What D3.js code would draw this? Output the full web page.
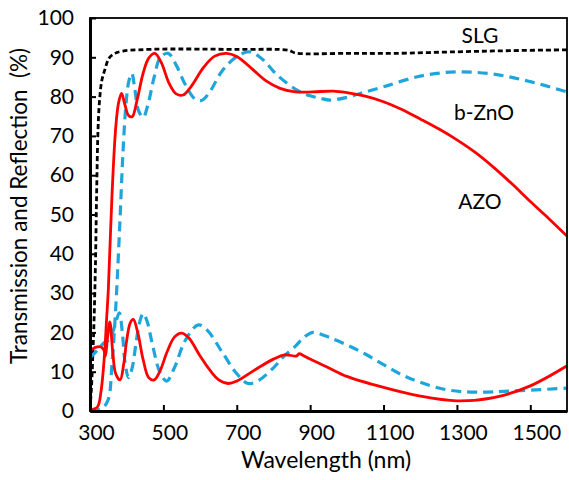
<!DOCTYPE html>
<html>
<head>
<meta charset="utf-8">
<script src="https://cdn.jsdelivr.net/npm/d3@7"></script>
<style>
  body { margin: 0; background: #fff; }
  text { font-family: Lato, "Open Sans", sans-serif; fill: #000; }
</style>
</head>
<body>
<div id="chart"></div>
<script>
// wavelength (nm), percent
var slgT = [[300,0.5],[304,6],[308,15],[311,23],[315,38],[318,55],[322,72],[326,79],[332,84],[341,87],[352,89.8],[368,91.0],[390,91.6],[430,91.9],[500,92.1],[700,92.0],[840,91.8],[860,91.1],[1000,91.0],[1126,91.0],[1300,91.4],[1450,91.7],[1600,91.9]];

var azoT = [[300,0.3],[320,1],[330,5],[340,15],[345,23],[350,31],[360,55],[370,72],[378,78.5],[386,80.8],[395,78],[405,75.2],[415,74.9],[428,79],[445,86],[460,89.8],[477,91.0],[495,88.5],[515,83.5],[535,80.7],[554,80.4],[575,82.5],[610,87.5],[640,90.3],[672,91.0],[700,90.2],[740,87.2],[780,84],[818,82.1],[860,81.2],[908,81.2],[963,81.4],[1000,81.0],[1050,80.1],[1100,78.7],[1150,76.7],[1200,74.3],[1250,71.8],[1300,69.0],[1350,65.8],[1400,62.0],[1450,57.8],[1500,53.3],[1550,49.0],[1600,44.5]];

var znoT = [[300,0.2],[320,0.3],[335,0.8],[350,3],[360,12],[370,26],[380,45],[390,66],[398,78],[406,84],[414,85.9],[422,82],[432,76.5],[445,74.7],[458,78],[475,85],[492,90],[513,91.0],[535,88],[560,83],[585,79.5],[604,79.0],[625,81],[660,86.5],[700,90.2],[736,91.4],[770,89.5],[810,85.5],[863,81.7],[900,80.2],[927,79.6],[954,79.1],[1000,79.8],[1036,80.8],[1100,82.5],[1200,85.2],[1299,86.3],[1400,85.7],[1500,83.8],[1600,81.2]];

var azoR = [[300,15.3],[310,16],[320,16.3],[330,16.3],[338,15.5],[342,14],[347,18],[354,22.7],[362,15],[370,9.5],[382,7.9],[392,12],[400,18],[410,22.5],[418,23.3],[430,20],[445,13],[460,8.5],[475,7.9],[490,10],[510,15],[530,18.8],[550,19.8],[570,18.5],[600,14],[630,10],[650,8],[677,7.0],[700,7.6],[750,10.5],[800,13.2],[830,14.3],[863,14.0],[870,14.6],[880,14.2],[900,13.2],[950,11],[1000,8.8],[1100,6.0],[1200,3.8],[1300,2.6],[1400,3.4],[1500,6.4],[1600,11.5]];

var znoR = [[300,13.5],[320,15.5],[340,17.5],[350,18],[360,19.5],[370,22.5],[380,25],[388,20],[396,12],[405,8.5],[415,11],[425,17],[435,22.5],[445,24.8],[455,23],[470,17],[490,10],[509,7.6],[530,11],[560,18],[595,21.9],[620,20.5],[660,15],[700,9.5],[731,7],[760,7.8],[800,11],[827,13.8],[860,16.5],[880,18.5],[900,19.8],[910,20],[950,18.8],[1000,16.8],[1050,14.5],[1100,11.8],[1150,9.2],[1200,7.3],[1272,5.4],[1350,4.8],[1450,5.1],[1600,5.8]];

var xTicks = [300, 500, 700, 900, 1100, 1300, 1500];
var yTicks = [0, 10, 20, 30, 40, 50, 60, 70, 80, 90, 100];

var w = 569, h = 480;
var m = { left: 90, right: 2, top: 18, bottom: 69 };

var svg = d3.select('#chart')
  .append('svg')
    .attr('width', w)
    .attr('height', h);

var x = d3.scaleLinear()
  .domain([300, 1600])
  .range([m.left, w - m.right]);

var y = d3.scaleLinear()
  .domain([0, 100])
  .range([h - m.bottom, m.top]);

svg.append('clipPath')
  .attr('id', 'plot-clip')
  .append('rect')
    .attr('x', m.left)
    .attr('y', m.top)
    .attr('width', w - m.right - m.left)
    .attr('height', h - m.bottom - m.top);

var line = d3.line()
  .x(d => x(d[0]))
  .y(d => y(d[1]))
  .curve(d3.curveCatmullRom.alpha(0.5));

var series = [
  { data: slgT, color: '#000', width: 2.8, dash: '5,3' },
  { data: znoT, color: '#1ea6dc', width: 3.2, dash: '10,6' },
  { data: znoR, color: '#1ea6dc', width: 3.2, dash: '10,6' },
  { data: azoT, color: '#ff0000', width: 2.8, dash: null },
  { data: azoR, color: '#ff0000', width: 2.8, dash: null }
];

var lines = svg.append('g').attr('clip-path', 'url(#plot-clip)');

lines.selectAll('.series')
  .data(series)
  .enter()
  .append('path')
    .attr('class', 'series')
    .attr('d', d => line(d.data))
    .attr('fill', 'none')
    .attr('stroke', d => d.color)
    .attr('stroke-width', d => d.width)
    .attr('stroke-dasharray', d => d.dash);

// frame
svg.append('rect')
  .attr('x', m.left)
  .attr('y', m.top)
  .attr('width', w - m.right - m.left)
  .attr('height', h - m.bottom - m.top)
  .attr('fill', 'none')
  .attr('stroke', '#000')
  .attr('stroke-width', 1.8);

var xAxis = d3.axisBottom(x)
  .tickValues(xTicks)
  .tickFormat(d3.format('d'))
  .tickSizeInner(-6)
  .tickSizeOuter(0)
  .tickPadding(14);

var yAxis = d3.axisLeft(y)
  .tickValues(yTicks)
  .tickFormat(d3.format('d'))
  .tickSizeInner(-6)
  .tickSizeOuter(0)
  .tickPadding(16);

var gx = svg.append('g')
  .attr('transform', 'translate(0,' + (h - m.bottom) + ')')
  .call(xAxis);

var gy = svg.append('g')
  .attr('transform', 'translate(' + m.left + ',0)')
  .call(yAxis);

[gx, gy].forEach(function(g) {
  g.select('.domain').attr('stroke', '#000').attr('stroke-width', 3);
  g.selectAll('.tick line').attr('stroke', '#000').attr('stroke-width', 2);
  g.selectAll('.tick text')
    .style('font-family', 'Lato, "Open Sans", sans-serif')
    .style('font-size', '21px')
    .attr('fill', '#000');
});

gx.selectAll('.tick text').attr('dx', 6);

// axis titles
svg.append('text')
  .attr('x', 326)
  .attr('y', 468)
  .attr('text-anchor', 'middle')
  .style('font-size', '23px')
  .text('Wavelength (nm)');

svg.append('text')
  .attr('transform', 'translate(27,206) rotate(-90)')
  .attr('text-anchor', 'middle')
  .style('font-size', '22.5px')
  .text('Transmission and Reflection\u00a0\u00a0(%)');

// series labels
var labels = [
  { t: 'SLG', x: 480, y: 43 },
  { t: 'b-ZnO', x: 484, y: 120 },
  { t: 'AZO', x: 480, y: 209 }
];

svg.selectAll('.series-label')
  .data(labels)
  .enter()
  .append('text')
    .attr('class', 'series-label')
    .attr('x', d => d.x)
    .attr('y', d => d.y)
    .attr('text-anchor', 'middle')
    .style('font-size', '21px')
    .text(d => d.t);
</script>
</body>
</html>
